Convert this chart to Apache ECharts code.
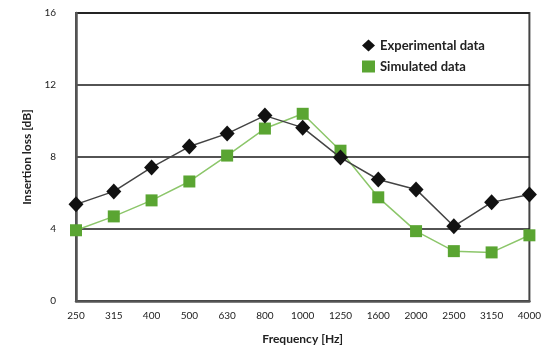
<!DOCTYPE html>
<html><head><meta charset="utf-8">
<script src="https://cdn.jsdelivr.net/npm/echarts@6/dist/echarts.min.js"></script>
<style>html,body{margin:0;padding:0;background:#fff}#c{width:544px;height:350px}</style>
</head><body><div id="c"></div>
<script>
const categories = ['250','315','400','500','630','800','1000','1250','1600','2000','2500','3150','4000'];
const experimental = [5.37,6.09,7.42,8.58,9.3,10.3,9.63,7.97,6.75,6.2,4.15,5.48,5.92];
const simulated = [3.93,4.7,5.59,6.64,8.08,9.58,10.4,8.35,5.76,3.88,2.77,2.7,3.65];
const yTicks = [0,4,8,12,16];

const font = 'Lato, "Open Sans", sans-serif';
const chart = echarts.init(document.getElementById('c'));
chart.setOption({
  animation: false,
  grid: {left: 76, right: 11, top: 13, bottom: 48, show: true, borderColor: '#444', borderWidth: 2, backgroundColor: 'transparent'},
  legend: {
    orient: 'vertical', left: 357, top: 34, itemGap: 8, itemWidth: 13, itemHeight: 12,
    textStyle: {fontFamily: font, fontSize: 13, color: '#222', fontWeight: 'bold'},
    data: [{name: 'Experimental data', icon: 'diamond'}, {name: 'Simulated data', icon: 'rect'}]
  },
  xAxis: {
    type: 'category', data: categories, boundaryGap: false,
    axisLine: {lineStyle: {color: '#555', width: 2.5}},
    axisTick: {show: false},
    axisLabel: {fontFamily: font, fontSize: 10, color: '#222', margin: 10},
    name: 'Frequency [Hz]', nameLocation: 'middle', nameGap: 32,
    nameTextStyle: {fontFamily: font, fontSize: 12, color: '#222', fontWeight: 'bold'}
  },
  yAxis: {
    type: 'value', min: 0, max: 16, interval: 4,
    axisLine: {show: true, lineStyle: {color: '#555', width: 2.5}},
    axisTick: {show: false},
    splitLine: {lineStyle: {color: '#1a1a1a', width: 1.5}},
    axisLabel: {fontFamily: font, fontSize: 10, color: '#222', margin: 20,
      formatter: v => yTicks.includes(v) ? String(v) : ''},
    name: 'Insertion loss [dB]', nameLocation: 'middle', nameGap: 42, nameRotate: 90,
    nameTextStyle: {fontFamily: font, fontSize: 12, color: '#222', fontWeight: 'bold'}
  },
  series: [
    {name: 'Simulated data', type: 'line', data: simulated, symbol: 'rect', symbolSize: 12,
     itemStyle: {color: '#5aa532'}, lineStyle: {color: '#8cc66a', width: 1.5}, z: 2},
    {name: 'Experimental data', type: 'line', data: experimental, symbol: 'diamond', symbolSize: [15, 16],
     itemStyle: {color: '#111'}, lineStyle: {color: '#444', width: 1.5}, z: 3}
  ]
});
</script></body></html>
